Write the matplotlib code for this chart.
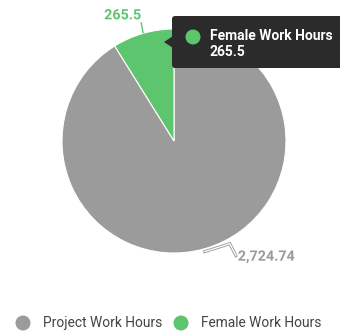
import numpy as np
import matplotlib
matplotlib.use("Agg")
import matplotlib.pyplot as plt
from matplotlib.patches import FancyBboxPatch, Polygon, Circle
import matplotlib.patheffects as pe

categories = ["Project Work Hours", "Female Work Hours"]
values = [2724.74, 265.5]
value_labels = ["2,724.74", "265.5"]
colors = ["#9b9b9b", "#5ec56f"]

W, H = 340, 333
fig = plt.figure(figsize=(W / 100, H / 100), dpi=100)
ax = fig.add_axes([0, 0, 1, 1])
plt.rcParams["font.family"] = ["Roboto", "DejaVu Sans"]


def py(y):
    # pixel row (top-down) -> data y
    return H - y


cx, cy, r = 174, 141, 112
wedges, _ = ax.pie(values, colors=colors, startangle=90, counterclock=False,
                   center=(cx, py(cy)), radius=r,
                   wedgeprops=dict(edgecolor="white", linewidth=0.8))
ax.set_xlim(0, W)
ax.set_ylim(0, H)
ax.set_aspect("equal")
ax.axis("off")

# data labels with connectors
for w, lab, col in zip(wedges, value_labels, colors):
    mid = np.deg2rad((w.theta1 + w.theta2) / 2)
    ex, ey = cx + r * np.cos(mid), py(cy) + r * np.sin(mid)
    outline = [pe.withStroke(linewidth=2, foreground="white")]
    if np.sin(mid) > 0:  # upper label
        pts = [(ex, ey), (ex - 2, ey + 11)]
        ax.plot(*zip(*pts), color=col, lw=1, solid_capstyle="butt")
        ax.text(ex - 2, ey + 18, lab, color=col, fontsize=10.3, fontweight="bold",
                ha="right", va="center", path_effects=outline)
    else:
        pts = [(ex, ey - 3), (ex + 25, ey + 5), (ex + 31, ey - 7)]
        ax.plot(*zip(*pts), color=col, lw=2.2, solid_joinstyle="miter")
        ax.plot(*zip(*pts), color="white", lw=0.9, solid_joinstyle="miter")
        ax.text(ex + 33, ey - 8, lab, color=col, fontsize=10.3, fontweight="bold",
                ha="left", va="center", path_effects=outline)

# tooltip
tip = FancyBboxPatch((172, py(68)), 180, 52, boxstyle="round,pad=0,rounding_size=3",
                     facecolor="#2b2b2b", edgecolor="none", zorder=5)
ax.add_patch(tip)
ax.add_patch(Polygon([(164, py(42)), (173, py(36)), (173, py(48))], closed=True,
                     facecolor="#2b2b2b", edgecolor="none", zorder=5))
ax.add_patch(Circle((193, py(37)), 7.5, facecolor=colors[1], edgecolor="none", zorder=6))
ax.text(210, py(36), categories[1], color="white", fontsize=10, fontweight="bold",
        ha="left", va="center", zorder=6)
ax.text(210, py(51.5), value_labels[1], color="white", fontsize=10, fontweight="bold",
        ha="left", va="center", zorder=6)

# legend
leg_x = [23, 181]
for x, name, col in zip(leg_x, categories, colors):
    ax.add_patch(Circle((x, py(323)), 7.5, facecolor=col, edgecolor="none"))
    ax.text(x + 20, py(323), name, color="#444444", fontsize=9.9,
            ha="left", va="center")

fig.savefig("out.png", dpi=100)
